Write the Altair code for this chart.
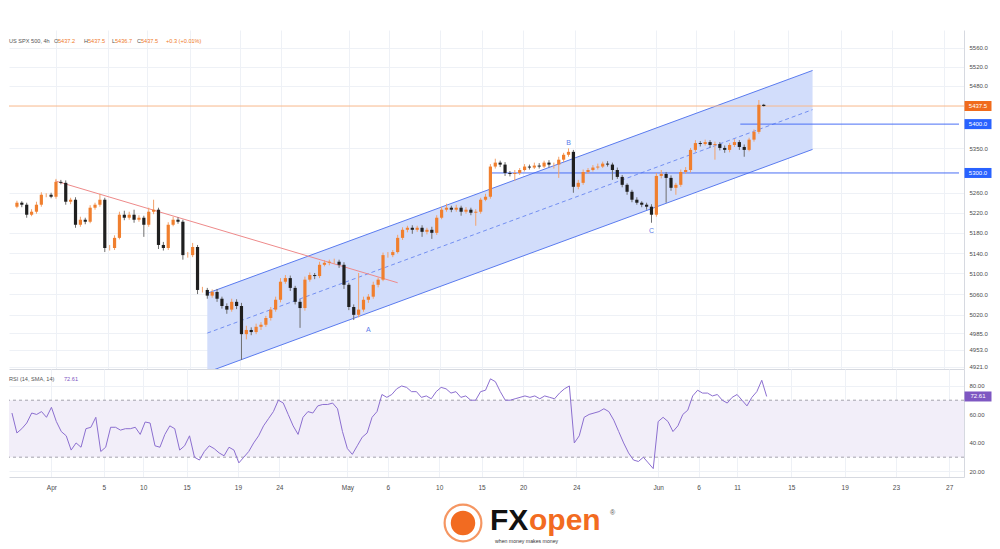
import altair as alt
import pandas as pd

# ---------------- data ----------------
first_open = 5232.0
closes = [5240, 5236, 5216, 5222, 5236, 5256, 5256, 5252, 5282, 5280,
          5242, 5246, 5196, 5206, 5202, 5230, 5236, 5246, 5150, 5150,
          5170, 5216, 5210, 5216, 5206, 5210, 5196, 5222, 5226, 5156,
          5150, 5196, 5206, 5202, 5136, 5136, 5152, 5068, 5068, 5057,
          5064, 5051, 5037, 5030, 5045, 5037, 4983, 4991, 4987, 4997,
          5001, 5014, 5030, 5049, 5084, 5091, 5072, 5045, 5033, 5088,
          5097, 5095, 5117, 5121, 5123, 5123, 5117, 5078, 5035, 5020,
          5030, 5049, 5055, 5078, 5088, 5136, 5136, 5142, 5170, 5186,
          5190, 5186, 5190, 5182, 5186, 5180, 5210, 5226, 5230, 5226,
          5230, 5222, 5226, 5220, 5222, 5246, 5252, 5313, 5321, 5317,
          5300, 5298, 5300, 5306, 5313, 5311, 5315, 5313, 5321, 5317,
          5317, 5327, 5337, 5343, 5272, 5280, 5302, 5306, 5311, 5313,
          5319, 5317, 5306, 5292, 5276, 5262, 5246, 5240, 5236, 5232,
          5216, 5294, 5298, 5290, 5270, 5276, 5302, 5306, 5347, 5361,
          5359, 5363, 5357, 5359, 5351, 5347, 5357, 5363, 5353, 5347,
          5368, 5384, 5440, 5437.5]

upper_wick = [4, 3, 4, 5, 6, 5, 3, 4, 6, 4,
              5, 4, 5, 6, 4, 5, 4, 12, 4, 6,
              5, 6, 8, 6, 10, 5, 4, 8, 20, 4,
              6, 5, 6, 5, 4, 6, 8, 4, 6, 4,
              5, 6, 4, 5, 6, 5, 6, 8, 5, 6,
              5, 4, 5, 6, 7, 6, 5, 4, 5, 6,
              5, 4, 6, 5, 4, 6, 4, 5, 4, 5,
              71, 6, 5, 6, 4, 5, 6, 4, 6, 5,
              4, 5, 4, 5, 4, 6, 5, 6, 8, 4,
              6, 4, 5, 4, 5, 4, 6, 5, 8, 4,
              5, 4, 6, 4, 5, 4, 6, 5, 4, 5,
              4, 6, 4, 7, 4, 6, 5, 4, 5, 6,
              4, 5, 4, 5, 4, 3, 4, 5, 3, 4,
              5, 6, 8, 4, 5, 4, 5, 6, 4, 6,
              4, 5, 4, 5, 4, 5, 4, 6, 4, 5,
              4, 5, 10, 2]

lower_wick = [3, 5, 6, 3, 4, 4, 5, 3, 4, 3,
              6, 5, 6, 4, 5, 3, 4, 4, 8, 5,
              4, 3, 5, 4, 6, 4, 24, 4, 5, 8,
              5, 4, 3, 4, 9, 5, 4, 8, 5, 6,
              4, 6, 5, 8, 4, 6, 49, 10, 6, 4,
              6, 4, 5, 4, 5, 4, 6, 5, 38, 5,
              4, 6, 4, 3, 5, 4, 6, 8, 6, 10,
              5, 4, 6, 4, 5, 3, 5, 4, 3, 4,
              5, 8, 4, 10, 5, 12, 4, 3, 4, 5,
              4, 8, 4, 5, 26, 4, 3, 4, 4, 5,
              6, 5, 14, 4, 3, 4, 3, 4, 3, 6,
              8, 27, 5, 4, 12, 5, 4, 4, 3, 4,
              3, 4, 20, 4, 5, 6, 5, 4, 5, 6,
              16, 4, 5, 50, 6, 14, 4, 4, 5, 4,
              5, 3, 6, 30, 5, 6, 5, 4, 6, 14,
              3, 4, 4, 1]

rsi_values = [61, 47, 50, 54, 61, 60, 62, 58, 65, 55,
              48, 45, 35, 40, 37, 50, 51, 58, 34, 37,
              51, 51, 49, 50, 50, 51, 46, 54.7, 54, 38,
              37, 46, 52, 50, 35, 38, 45, 30, 28, 34,
              38, 36, 33, 31, 37, 35, 26, 30, 34, 40,
              45, 52, 57, 62, 70, 68, 60, 52, 46, 58,
              62, 61, 66, 67, 67, 68, 64, 48, 36, 32,
              38, 44, 47, 58, 62, 74, 72, 74, 78, 80,
              79, 76, 76, 72, 73, 71, 76, 79, 78, 75,
              76, 72, 73, 70, 70, 76, 77, 85, 83, 76,
              70, 70, 71, 72, 73, 72, 73, 71, 73, 72,
              71, 75, 78, 80, 40, 45, 58, 60, 61, 62,
              64, 62, 56, 48, 40, 33, 28, 27, 30, 26,
              22, 55, 58, 55, 48, 52, 60, 63, 73, 77,
              75, 75, 73, 74, 70, 68, 72, 74, 70, 66,
              72, 76, 84, 72.61]

x_tick_pos = [8, 18.6, 26.6, 35.4, 45.8, 54.2, 68, 76.2, 86.6, 95.2, 103.6,
              114.4, 131, 139.2, 147, 158, 168.8, 179.2, 190]
x_tick_lab = ["Apr", "5", "10", "15", "19", "24", "May", "6", "10", "15", "20",
              "24", "Jun", "6", "11", "15", "19", "23", "27"]
price_ticks = [4921, 4953, 4985, 5020, 5060, 5100, 5140, 5180, 5220, 5260,
               5350, 5480, 5520, 5560]
rsi_ticks = [20, 40, 60, 80]
rsi_band = [30, 70]

channel_k = [39, 163]
channel_upper = [5061.6, 5512.0]
channel_lower = [4911.0, 5348.0]
channel_mid = [4985.0, 5430.0]

trend_k = [7.8, 78]
trend_price = [5284, 5082]

last_price = 5437.5
level_price = [5400.0, 5300.0]
level_start = [148.2, 97]
level_end = [193, 193]

wave_k = [72, 113, 130]
wave_price = [4991, 5361, 5184]
wave_text = ["A", "B", "C"]

rsi_last = 72.61

# ---------------- layout ----------------
W = 955
H_PRICE = 339
H_RSI = 108
SX = W / 968.0
GRID = "#eef1f6"
LINE = "#d6d9e0"
LABEL = "#4c4c4c"
ORANGE = "#f07f2e"
BLUE = "#2962ff"
CH_BLUE = "#5a7bef"
PURPLE = "#7e57c2"

n = len(closes)
opens = [first_open] + closes[:-1]
rows = []
for k in range(n):
    o, c = opens[k], closes[k]
    rows.append(dict(k=k, open=o, close=c,
                     high=max(o, c) + upper_wick[k],
                     low=min(o, c) - lower_wick[k],
                     dir="up" if c >= o else "down"))
candles = pd.DataFrame(rows)

xscale = alt.Scale(domain=[-0.6, 193], nice=False, zero=False)
pscale = alt.Scale(type="log", domain=[4917, 5598], nice=False, zero=False)
rscale = alt.Scale(domain=[16.1, 91.9], nice=False, zero=False)

lab_expr = ("[" + ",".join(f"'{s}'" for s in x_tick_lab) + "][indexof(["
            + ",".join(str(v) for v in x_tick_pos) + "], datum.value)]")

grid_x = alt.Axis(values=x_tick_pos, grid=True, gridColor=GRID, labels=False,
                  ticks=False, domain=True, domainColor=LINE, title=None)
price_axis = alt.Axis(orient="right", values=price_ticks, format=".1f", grid=True,
                      gridColor=GRID, ticks=False, domain=True, domainColor=LINE,
                      labelFontSize=6, labelColor=LABEL, labelPadding=5,
                      labelOverlap=False, title=None)


def PX(field):
    return alt.X(field, scale=xscale, axis=grid_x)


def PY(field):
    return alt.Y(field, scale=pscale, axis=price_axis)


chan = pd.DataFrame({"k": channel_k, "upper": channel_upper,
                     "lower": channel_lower, "mid": channel_mid})
area = alt.Chart(chan).mark_area(color="#d2ddfb", clip=True).encode(
    x=PX("k:Q"), y=PY("upper:Q"), y2="lower:Q")
ch_up = alt.Chart(chan).mark_line(color=CH_BLUE, strokeWidth=1, clip=True).encode(
    x=PX("k:Q"), y=PY("upper:Q"))
ch_lo = alt.Chart(chan).mark_line(color=CH_BLUE, strokeWidth=1, clip=True).encode(
    x=PX("k:Q"), y=PY("lower:Q"))
ch_mid = alt.Chart(chan).mark_line(color=CH_BLUE, strokeWidth=0.8, strokeDash=[4, 3],
                                   clip=True).encode(x=PX("k:Q"), y=PY("mid:Q"))

trend = alt.Chart(pd.DataFrame({"k": trend_k, "p": trend_price})).mark_line(
    color="#ee8a8a", strokeWidth=1).encode(x=PX("k:Q"), y=PY("p:Q"))

last_df = pd.DataFrame({"p": [last_price], "t": [f"{last_price:.1f}"]})
levels = pd.DataFrame({"p": level_price, "s": level_start, "e": level_end,
                       "t": [f"{v:.1f}" for v in level_price]})
last_rule = alt.Chart(last_df).mark_rule(strokeWidth=1, color="#f8b88c").encode(y=PY("p:Q"))
lvl_rules = alt.Chart(levels).mark_rule(strokeWidth=1, color="#4a6ff5").encode(
    x=PX("s:Q"), x2="e:Q", y=PY("p:Q"))

base = alt.Chart(candles)
wick_up = base.transform_filter("datum.dir == 'up'").mark_rule(
    strokeWidth=1, color="#f3a26b").encode(x=PX("k:Q"), y=PY("low:Q"), y2="high:Q")
wick_dn = base.transform_filter("datum.dir == 'down'").mark_rule(
    strokeWidth=1, color="#6e6e6e").encode(x=PX("k:Q"), y=PY("low:Q"), y2="high:Q")
body_up = base.transform_filter("datum.dir == 'up'").mark_bar(size=3.2, color=ORANGE).encode(
    x=PX("k:Q"), y=PY("open:Q"), y2="close:Q")
body_dn = base.transform_filter("datum.dir == 'down'").mark_bar(size=3.2, color="#1f1f1f").encode(
    x=PX("k:Q"), y=PY("open:Q"), y2="close:Q")

waves = alt.Chart(pd.DataFrame({"k": wave_k, "p": wave_price, "t": wave_text})).mark_text(
    color="#5b7be9", fontSize=7).encode(x=PX("k:Q"), y=PY("p:Q"), text="t:N")

last_box = alt.Chart(last_df).mark_tick(orient="horizontal", size=27, thickness=10,
                                        color="#f06b1c", opacity=1).encode(
    x=alt.value(W + 14), y=PY("p:Q"))
lvl_box = alt.Chart(levels).mark_tick(orient="horizontal", size=27, thickness=10,
                                      color=BLUE, opacity=1).encode(
    x=alt.value(W + 14), y=PY("p:Q"))
last_txt = alt.Chart(last_df).mark_text(color="white", fontSize=6, align="center",
                                        baseline="middle").encode(
    x=alt.value(W + 14), y=PY("p:Q"), text="t:N")
lvl_txt = alt.Chart(levels).mark_text(color="white", fontSize=6, align="center",
                                      baseline="middle").encode(
    x=alt.value(W + 14), y=PY("p:Q"), text="t:N")

one = pd.DataFrame({"a": [0]})


def txt(s, ref_x, y, color, size=6, weight="normal", align="left", baseline="middle"):
    return alt.Chart(one).mark_text(text=s, color=color, fontSize=size, fontWeight=weight,
                                    align=align, baseline=baseline).encode(
        x=alt.value(max(ref_x - 8, 0)), y=alt.value(y))


GRAY_T = "#555555"
OR_T = "#ef7a2a"
HS = 5.6
header = [
    txt("US SPX 500, 4h", 8, 11, GRAY_T, HS),
    txt("O", 53, 11, GRAY_T, HS), txt("5437.2", 57, 11, OR_T, HS),
    txt("H", 83, 11, GRAY_T, HS), txt("5437.5", 87, 11, OR_T, HS),
    txt("L", 111, 11, GRAY_T, HS), txt("5436.7", 114, 11, OR_T, HS),
    txt("C", 136, 11, GRAY_T, HS), txt("5437.5", 140, 11, OR_T, HS),
    txt("+0.3 (+0.01%)", 165, 11, OR_T, HS),
]

price = alt.layer(area, ch_mid, ch_up, ch_lo, trend, last_rule, lvl_rules,
                  wick_up, wick_dn, body_up, body_dn, waves,
                  last_box, lvl_box, last_txt, lvl_txt, *header).properties(
    width=W, height=H_PRICE)

# ---------------- RSI pane ----------------
rsi_axis = alt.Axis(orient="right", values=rsi_ticks, format=".2f", grid=True,
                    gridColor=GRID, ticks=False, domain=True, domainColor=LINE,
                    labelFontSize=6, labelColor=LABEL, labelPadding=5,
                    labelOverlap=False, title=None)
x_axis = alt.Axis(values=x_tick_pos, labelExpr=lab_expr, grid=True, gridColor=GRID,
                  ticks=False, domain=True, domainColor=LINE, labelFontSize=6.5,
                  labelColor=LABEL, labelPadding=7, labelOverlap=False, title=None)


def RX(field):
    return alt.X(field, scale=xscale, axis=x_axis)


def RY(field):
    return alt.Y(field, scale=rscale, axis=rsi_axis)


rsi_df = pd.DataFrame({"k": list(range(n)), "rsi": rsi_values})
band = alt.Chart(pd.DataFrame({"lo": [rsi_band[0]], "hi": [rsi_band[1]]})).mark_rect(
    color="#f2eef9").encode(y=RY("hi:Q"), y2="lo:Q")
band_lines = alt.Chart(pd.DataFrame({"v": rsi_band})).mark_rule(
    color="#8f8f99", strokeWidth=0.8, strokeDash=[3, 3]).encode(y=RY("v:Q"))
rsi_line = alt.Chart(rsi_df).mark_line(color="#8c6fd0", strokeWidth=1, clip=True).encode(
    x=RX("k:Q"), y=RY("rsi:Q"))
rsi_box_df = pd.DataFrame({"v": [rsi_last], "t": [f"{rsi_last:.2f}"]})
rsi_box = alt.Chart(rsi_box_df).mark_tick(orient="horizontal", size=27, thickness=10,
                                          color=PURPLE, opacity=1).encode(
    x=alt.value(W + 14), y=RY("v:Q"))
rsi_box_t = alt.Chart(rsi_box_df).mark_text(color="white", fontSize=6, align="center",
                                            baseline="middle").encode(
    x=alt.value(W + 14), y=RY("v:Q"), text="t:N")
rsi_head = [txt("RSI (14, SMA, 14)", 8, 10, GRAY_T, HS), txt("72.61", 63, 10, PURPLE, HS)]

rsi = alt.layer(band, band_lines, rsi_line, rsi_box, rsi_box_t, *rsi_head).properties(
    width=W, height=H_RSI)

# ---------------- logo pane ----------------
LOGO_OR = "#f26b21"
logo_parts = [
    alt.Chart(one).mark_point(shape="circle", size=1350, filled=False, color=LOGO_OR,
                              strokeWidth=2.2).encode(x=alt.value(462 - 8), y=alt.value(46)),
    alt.Chart(one).mark_point(shape="circle", size=600, filled=True, color=LOGO_OR,
                              opacity=1).encode(x=alt.value(462 - 8), y=alt.value(46)),
    txt("FX", 489, 53, "#111111", size=30, weight="bold", baseline="alphabetic"),
    txt("open", 528, 53, LOGO_OR, size=30, weight="bold", baseline="alphabetic"),
    txt("®", 609, 36, "#555555", size=7),
    txt("when money  makes money", 494, 64, "#333333", size=5.2),
]
logo = alt.layer(*logo_parts).properties(width=W, height=70)

chart = alt.vconcat(price, rsi, logo, spacing=0, bounds="flush").properties(
    padding={"left": 0, "top": 22, "right": 0, "bottom": 0}
).configure(font="Liberation Sans", background="white").configure_view(strokeOpacity=0)

chart.save("out.html", embed_options={"renderer": "svg", "actions": False})
